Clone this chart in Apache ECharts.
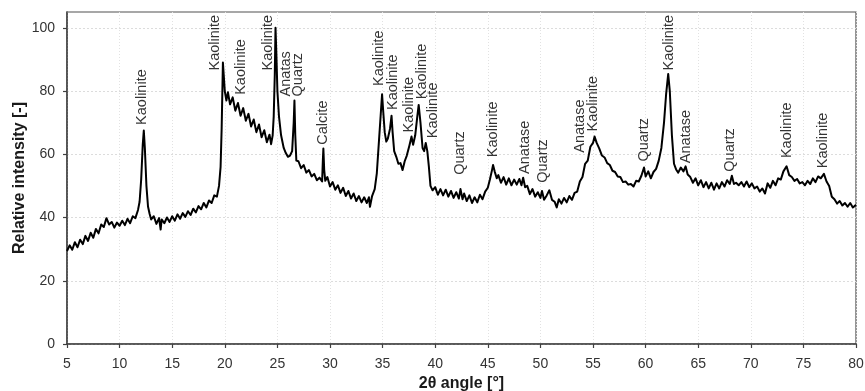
<!DOCTYPE html>
<html>
<head>
<meta charset="utf-8">
<title>XRD pattern</title>
<script src="https://cdn.jsdelivr.net/npm/echarts@6/dist/echarts.min.js"></script>
<style>
  html, body { margin: 0; padding: 0; background: #fff; }
  #chart { width: 865px; height: 391px; }
</style>
</head>
<body>
<div id="chart"></div>
<script>
// Diffraction scan: [2θ (°), relative intensity]
const pattern = [
  [5.00,29.4],[5.25,31.2],[5.50,29.8],[5.75,32.2],[6.00,30.6],[6.25,33.0],[6.50,31.6],[6.75,34.2],
  [7.00,32.6],[7.25,35.2],[7.50,33.6],[7.75,36.4],[8.00,35.0],[8.25,37.8],[8.50,37.0],[8.75,39.8],
  [9.00,37.8],[9.25,38.6],[9.50,36.8],[9.75,38.4],[10.00,37.4],[10.25,39.0],[10.50,37.6],[10.75,39.6],
  [11.00,38.2],[11.25,40.4],[11.50,39.8],[11.75,42.4],[11.90,45.0],[12.05,52.0],[12.20,63.0],[12.30,67.5],
  [12.40,62.0],[12.55,50.0],[12.70,43.5],[12.85,41.2],[13.00,39.4],[13.25,40.4],[13.50,38.0],[13.75,39.8],
  [13.90,36.2],[14.00,39.4],[14.25,38.2],[14.50,40.0],[14.75,38.6],[15.00,40.4],[15.25,39.0],[15.50,41.0],
  [15.75,39.6],[16.00,41.4],[16.25,40.2],[16.50,42.0],[16.75,40.8],[17.00,42.8],[17.25,41.6],[17.50,43.6],
  [17.75,42.6],[18.00,44.6],[18.25,43.2],[18.50,45.4],[18.75,44.6],[19.00,47.0],[19.25,46.6],[19.45,50.0],
  [19.60,56.0],[19.70,68.0],[19.78,82.0],[19.82,89.0],[19.90,85.0],[20.00,80.0],[20.15,77.0],[20.30,79.6],
  [20.50,75.8],[20.75,78.0],[21.00,73.8],[21.25,76.2],[21.50,72.2],[21.75,74.6],[22.00,70.6],[22.25,72.8],
  [22.50,68.8],[22.75,71.0],[23.00,67.0],[23.25,69.4],[23.50,65.4],[23.75,67.6],[24.00,63.8],[24.25,66.2],
  [24.40,63.2],[24.55,66.0],[24.65,72.0],[24.75,85.0],[24.82,100.0],[24.90,92.0],[25.00,80.0],[25.15,72.0],
  [25.35,66.0],[25.60,62.0],[25.80,60.4],[26.00,59.2],[26.20,59.6],[26.40,61.0],[26.55,70.0],[26.62,77.0],
  [26.70,66.0],[26.80,58.0],[27.00,57.8],[27.25,55.6],[27.50,56.6],[27.75,54.2],[28.00,55.0],[28.25,53.0],
  [28.50,53.8],[28.75,51.8],[29.00,52.6],[29.25,51.4],[29.32,58.0],[29.37,61.8],[29.45,55.0],[29.55,51.6],
  [29.75,52.8],[30.00,49.8],[30.25,51.2],[30.50,48.8],[30.75,50.2],[31.00,47.8],[31.25,49.4],[31.50,46.8],
  [31.75,48.4],[32.00,46.0],[32.25,47.6],[32.50,45.2],[32.75,46.8],[33.00,44.8],[33.25,46.4],[33.50,44.6],
  [33.70,46.4],[33.80,43.4],[34.00,46.8],[34.25,49.0],[34.45,54.0],[34.65,64.0],[34.85,74.0],[34.95,79.0],
  [35.05,74.0],[35.20,67.0],[35.35,64.0],[35.50,65.0],[35.70,68.0],[35.85,72.2],[35.95,67.0],[36.10,61.0],
  [36.30,59.2],[36.50,57.0],[36.70,57.2],[36.90,55.0],[37.10,57.8],[37.30,59.6],[37.55,62.8],[37.75,65.6],
  [37.90,63.0],[38.10,66.0],[38.30,72.0],[38.43,75.6],[38.60,70.0],[38.80,62.0],[38.95,61.0],[39.10,63.6],
  [39.25,61.0],[39.40,56.0],[39.55,50.0],[39.75,48.6],[40.00,49.6],[40.25,47.2],[40.50,49.0],[40.75,47.0],
  [41.00,48.8],[41.25,46.6],[41.50,48.4],[41.75,46.2],[42.00,48.0],[42.25,46.0],[42.40,49.0],[42.60,45.8],
  [42.75,47.6],[43.00,45.2],[43.25,47.0],[43.50,44.6],[43.75,46.4],[44.00,44.8],[44.25,47.2],[44.50,45.8],
  [44.75,48.2],[45.00,49.4],[45.20,52.0],[45.40,55.0],[45.50,56.6],[45.65,54.6],[45.85,52.4],[46.00,53.4],
  [46.25,51.0],[46.50,52.8],[46.75,50.4],[47.00,52.4],[47.25,50.2],[47.50,52.0],[47.75,50.4],[48.00,52.2],
  [48.20,50.2],[48.36,52.6],[48.55,49.6],[48.75,50.0],[49.00,47.4],[49.25,49.0],[49.50,46.6],[49.75,48.0],
  [50.00,46.2],[50.15,48.4],[50.35,45.6],[50.60,47.0],[50.85,48.6],[51.10,45.6],[51.35,45.0],[51.55,43.2],
  [51.75,45.8],[52.00,44.4],[52.25,46.2],[52.50,44.8],[52.75,46.8],[53.00,45.6],[53.25,47.8],[53.50,48.2],
  [53.75,51.4],[54.00,52.8],[54.25,57.0],[54.50,58.0],[54.75,62.4],[55.00,63.6],[55.15,65.6],[55.35,63.6],
  [55.60,61.8],[55.85,59.6],[56.10,59.0],[56.35,57.2],[56.60,56.6],[56.85,54.8],[57.10,54.4],[57.35,53.0],
  [57.60,52.8],[57.85,51.2],[58.10,51.4],[58.35,50.4],[58.60,50.6],[58.85,49.8],[59.10,51.6],[59.35,51.4],
  [59.60,53.2],[59.85,55.8],[60.00,53.0],[60.25,54.6],[60.50,52.4],[60.75,54.4],[61.00,55.4],[61.25,58.0],
  [61.50,62.0],[61.75,70.0],[61.95,79.0],[62.15,85.4],[62.30,80.0],[62.50,66.0],[62.70,57.0],[62.90,55.2],
  [63.10,54.2],[63.35,55.8],[63.60,54.6],[63.80,56.2],[64.00,53.6],[64.25,52.8],[64.50,51.0],[64.75,52.4],
  [65.00,50.2],[65.25,51.8],[65.50,49.6],[65.75,51.2],[66.00,49.2],[66.25,51.0],[66.50,48.8],[66.75,50.8],
  [67.00,49.2],[67.25,51.2],[67.50,49.8],[67.75,51.8],[68.00,50.6],[68.20,53.2],[68.40,50.6],[68.60,51.0],
  [68.85,50.2],[69.10,51.2],[69.35,49.8],[69.60,51.4],[69.85,49.6],[70.10,50.8],[70.35,49.2],[70.60,49.8],
  [70.85,48.2],[71.10,49.2],[71.35,47.6],[71.60,50.8],[71.85,49.4],[72.10,51.6],[72.35,50.2],[72.60,52.4],
  [72.85,52.0],[73.10,54.6],[73.40,56.2],[73.65,53.4],[73.90,52.8],[74.15,51.6],[74.40,52.2],[74.65,50.8],
  [74.90,51.2],[75.15,50.2],[75.40,51.6],[75.65,50.6],[75.90,52.4],[76.15,51.2],[76.40,53.0],[76.65,52.4],
  [76.95,53.8],[77.20,51.4],[77.45,50.0],[77.70,46.6],[77.95,45.8],[78.20,44.4],[78.45,45.2],[78.70,43.8],
  [78.95,44.6],[79.20,43.4],[79.45,44.6],[79.70,43.2],[80.00,44.0]
];

// Phase annotations: name, 2θ position, intensity where the text starts
const phaseNames = [
  'Kaolinite', 'Kaolinite', 'Kaolinite', 'Kaolinite', 'Anatas', 'Quartz', 'Calcite',
  'Kaolinite', 'Kaolinite', 'Kaolinite', 'Kaolinite', 'Kaolinite', 'Quartz', 'Kaolinite',
  'Anatase', 'Quartz', 'Anatase', 'Kaolinite', 'Quartz', 'Kaolinite', 'Anatase', 'Quartz',
  'Kaolinite', 'Kaolinite'
];
const phaseAngles = [
  12.1, 19.1, 21.5, 24.15, 25.8, 27.0, 29.37,
  34.66, 36.0, 37.5, 38.7, 39.8, 42.35, 45.46,
  48.5, 50.27, 53.75, 55.0, 59.83, 62.23, 63.8, 68.05,
  73.4, 76.86
];
const phaseBase = [
  69.3, 86.5, 78.8, 86.5, 78.3, 78.3, 63.0,
  81.6, 74.0, 66.9, 77.4, 65.1, 53.5, 59.1,
  53.8, 51.0, 60.5, 67.2, 57.7, 86.5, 57.2, 54.5,
  58.8, 55.6
];

const xTicks = { min: 5, max: 80, step: 5 };
const yTicks = [0, 20, 40, 60, 80, 100];

const FONT = '"Liberation Sans", Arial, Helvetica, sans-serif';

const chart = echarts.init(document.getElementById('chart'), null, { renderer: 'canvas' });

chart.setOption({
  animation: false,
  backgroundColor: '#ffffff',
  grid: {
    left: 67, right: 9, top: 12, bottom: 47,
    outerBoundsMode: 'none',
    containLabel: false,
    show: true, borderColor: '#505050', borderWidth: 1.2, backgroundColor: 'transparent'
  },
  xAxis: {
    type: 'value',
    min: xTicks.min, max: xTicks.max, interval: xTicks.step,
    name: '2θ angle [°]',
    nameLocation: 'middle',
    nameGap: 32,
    nameTextStyle: { fontFamily: FONT, fontSize: 16, fontWeight: 'bold', color: '#1a1a1a' },
    axisLine: { show: true, onZero: false, lineStyle: { color: '#404040', width: 1.5 } },
    axisTick: { show: true, length: 4, lineStyle: { color: '#404040', width: 1.2 } },
    axisLabel: { fontFamily: FONT, fontSize: 14, color: '#333', margin: 13 },
    splitLine: { show: true, lineStyle: { color: '#e2e2e2', type: [1, 2], width: 1 } }
  },
  yAxis: {
    type: 'value',
    min: 0, max: 105, interval: 20,
    name: 'Relative intensity [-]',
    nameLocation: 'middle',
    nameGap: 39,
    nameMoveOverlap: false,
    nameTextStyle: { fontFamily: FONT, fontSize: 16, fontWeight: 'bold', color: '#1a1a1a' },
    axisLine: { show: true, lineStyle: { color: '#404040', width: 1.5 } },
    axisTick: { show: true, length: 4, customValues: yTicks, lineStyle: { color: '#404040', width: 1.2 } },
    axisLabel: { fontFamily: FONT, fontSize: 14, color: '#333', margin: 12, customValues: yTicks },
    splitLine: { show: true, lineStyle: { color: '#dcdcdc', type: [2, 2], width: 1 } }
  },
  series: [
    {
      type: 'line',
      data: pattern,
      showSymbol: false,
      symbol: 'none',
      lineStyle: { color: '#000', width: 2, join: 'round' },
      z: 3
    },
    {
      type: 'scatter',
      data: phaseNames.map((n, i) => ({ name: n, value: [phaseAngles[i], phaseBase[i]] })),
      symbolSize: 0,
      label: {
        show: true,
        position: 'inside',
        rotate: 90,
        align: 'left',
        verticalAlign: 'middle',
        formatter: p => p.name,
        fontFamily: FONT,
        fontSize: 14.5,
        color: '#000'
      },
      z: 4
    }
  ]
});
</script>
</body>
</html>
